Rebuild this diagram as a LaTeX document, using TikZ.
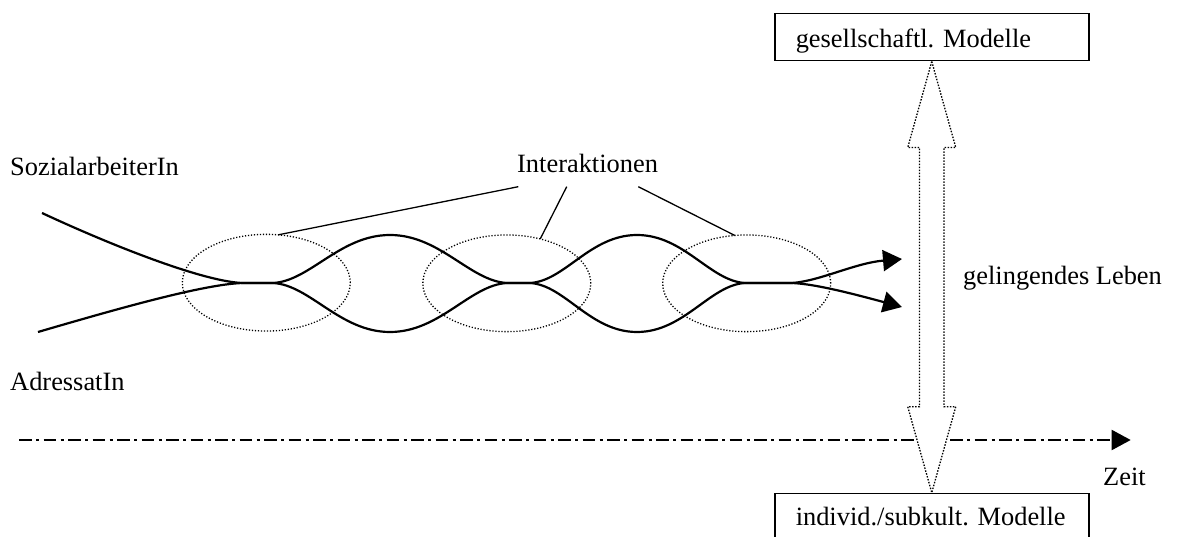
\documentclass[tikz,border=0pt]{standalone}
\usepackage{fontspec}
\setmainfont{Liberation Serif}
\usetikzlibrary{arrows.meta,shapes.geometric,calc}
\newcommand{\figfont}{\fontsize{26.4pt}{31pt}\selectfont\frenchspacing}
\begin{document}
\begin{tikzpicture}[x=1pt,y=-1pt,
  txt/.style={font=\figfont, inner sep=0pt, anchor=base west},
  modbox/.style={draw, line width=1.5pt, font=\figfont, text width=272pt, align=left,
    inner xsep=21pt, inner ysep=0pt, anchor=north west},
  zone/.style={ellipse, draw, line width=1.3pt, dash pattern=on 1.2pt off 1.8pt,
    minimum width=168pt, minimum height=96.7pt, inner sep=0pt, outer sep=0pt},
  life/.style={line width=2.2pt, line join=round, -{Triangle[length=19pt,width=21pt]}},
  lead/.style={line width=1.3pt},
  timeline/.style={line width=2pt, dash pattern=on 12.5pt off 4.5pt on 3pt off 4.5pt,
    -{Triangle[length=19pt,width=20pt]}},
  dbl/.style={line width=1.3pt, dash pattern=on 1.5pt off 1.5pt, fill=white}]
\clip (0,0) rectangle (1178,537);

% texts
\node[txt] (sa) at (10,176) {SozialarbeiterIn};
\node[txt] (ad) at (10,390) {AdressatIn};
\node[txt] (ia) at (517,172.3) {Interaktionen};
\node[txt] (gl) at (963,285) {gelingendes Leben};
\node[txt] (zt) at (1103,485) {Zeit};

% boxes
\node[modbox, text height=34pt, text depth=13.3pt] (gm) at (774,12.7) {\mbox{gesellschaftl. Modelle}};
\node[modbox, text height=32.3pt, text depth=40pt] (im) at (774,492.7) {\mbox{individ./subkult. Modelle}};

% timeline
\coordinate (ts) at (19,440);
\coordinate (te) at (1130.7,440);
\draw[timeline] (ts) -- (te);

% double arrow between the boxes
\coordinate (t1) at (gm.south);
\coordinate (t2) at (im.north);
\draw[dbl] (t1) -- ($(t1)+(24,86)$) -- ($(t1)+(12.25,86)$) -- ($(t2)+(12.25,-86)$)
  -- ($(t2)+(24,-86)$) -- (t2) -- ($(t2)+(-24,-86)$) -- ($(t2)+(-12.25,-86)$)
  -- ($(t1)+(-12.25,86)$) -- ($(t1)+(-24,86)$) -- cycle;

% interaction zones
\node[zone] (e1) at (266.3,282.7) {};
\node[zone] (e2) at (506.8,283.3) {};
\node[zone] (e3) at (746.7,283.3) {};

% leaders
\draw[lead] ($(ia.base west)+(1.3,14.4)$) -- (e1.76);
\draw[lead] ($(ia.base west)+(49.7,14.4)$) -- (e2.53);
\draw[lead] ($(ia.base west)+(121.3,14.4)$) -- (e3.104);

% life lines
\coordinate (a0) at (42,213);
\coordinate (b0) at (38,332);
\coordinate (a1) at (902,259);
\coordinate (b1) at (902,307);
\draw[life] (a0) .. controls (115,247) and (205,282) .. (243,283) -- (273,283)
  .. controls (310,281) and (340,235) .. (390,235)
  .. controls (440,235) and (470,281) .. (507,283) -- (530,283)
  .. controls (565,285) and (590,332) .. (637,332)
  .. controls (684,332) and (710,285) .. (745,283) -- (792,283)
  .. controls (820,281) and (855,263) .. (a1);
\draw[life] (b0) .. controls (120,308) and (205,284) .. (243,283) -- (273,283)
  .. controls (310,285) and (340,332) .. (390,332)
  .. controls (440,332) and (470,285) .. (507,283) -- (530,283)
  .. controls (565,281) and (590,235) .. (637,235)
  .. controls (684,235) and (710,281) .. (745,283) -- (792,283)
  .. controls (815,284) and (850,293) .. (b1);
\end{tikzpicture}
\end{document}
